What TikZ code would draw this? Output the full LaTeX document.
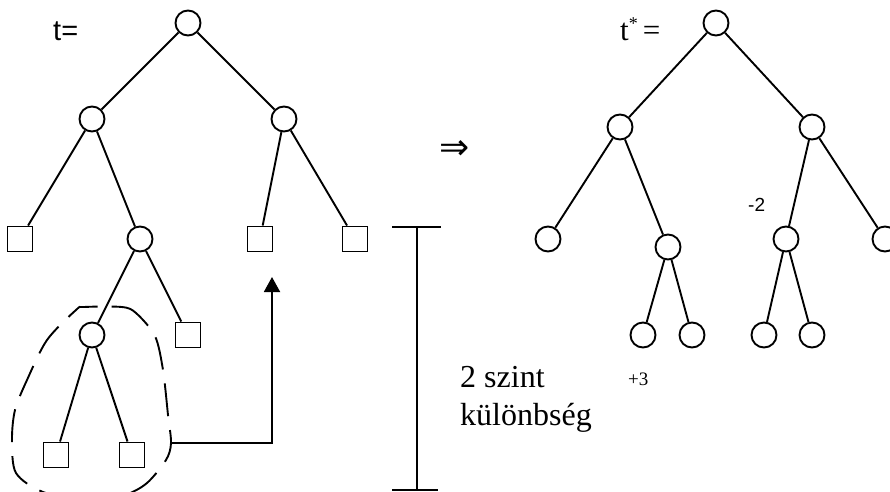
\documentclass[tikz,border=0pt]{standalone}
\usepackage{fontspec}
\setmainfont{Liberation Serif}
\newfontfamily\sansf{Liberation Sans}
\newfontfamily\symf{DejaVu Sans}
\usetikzlibrary{arrows.meta}
\begin{document}
\begin{tikzpicture}[x=1pt,y=-1pt,
  cnode/.style={circle,draw,line width=1.9pt,minimum size=25pt,inner sep=0pt},
  snode/.style={rectangle,draw,line width=1.9pt,minimum size=25pt,inner sep=0pt},
  edge/.style={line width=1.9pt},
  lbl/.style={inner sep=0pt,anchor=base west}]
\useasboundingbox (0,0) rectangle (890,491);
% ---------- left tree ----------
\node[cnode] (a) at (188,23) {};
\node[cnode] (b) at (92,119) {};
\node[cnode] (c) at (284,119) {};
\node[snode] (d) at (20,239) {};
\node[cnode] (e) at (140,239) {};
\node[snode] (f) at (260,239) {};
\node[snode] (g) at (355,239) {};
\node[cnode] (h) at (92,335) {};
\node[snode] (i) at (188,335) {};
\node[snode] (j) at (56,455) {};
\node[snode] (k) at (132,455) {};
\draw[edge] (a) -- (b) (a) -- (c) (b) -- (d) (b) -- (e) (c) -- (f) (c) -- (g)
  (e) -- (h) (e) -- (i) (h) -- (j) (h) -- (k);
% dashed outline
\draw[edge,dash pattern=on 33pt off 14pt] plot[smooth cycle] coordinates {
  (84,307) (122,307) (136,313) (155,336) (163,370) (168,415) (171,443)
  (166,460) (147,483) (125,495) (90,502) (43,492) (16,473) (12,440)
  (15,410) (27,380) (47,340) (76,310)};
% arrow
\coordinate (as) at (172,443);
\coordinate (ae) at (272,277);
\draw[edge,-{Triangle[width=16pt,length=15pt]}] (as) -| (ae);
% bar
\coordinate (bt) at (417,227);
\coordinate (bb) at (417,490);
\coordinate (btl) at (392,227);
\coordinate (btr) at (441,227);
\coordinate (bbl) at (392,490);
\coordinate (bbr) at (438,490);
\draw[edge] (bt) -- (bb) (btl) -- (btr) (bbl) -- (bbr);
% ---------- right tree ----------
\node[cnode] (A) at (716,23) {};
\node[cnode] (B) at (620,127) {};
\node[cnode] (C) at (812,127) {};
\node[cnode] (D) at (548,239) {};
\node[cnode] (E) at (668,247) {};
\node[cnode] (F) at (786,239) {};
\node[cnode] (G) at (885,239) {};
\node[cnode] (H) at (643,335) {};
\node[cnode] (I) at (692,335) {};
\node[cnode] (J) at (764,335) {};
\node[cnode] (K) at (812,335) {};
\draw[edge] (A) -- (B) (A) -- (C) (B) -- (D) (B) -- (E) (C) -- (F) (C) -- (G)
  (E) -- (H) (E) -- (I) (F) -- (J) (F) -- (K);
% ---------- labels ----------
\node[lbl] (tl) at (53,40) {\sansf\fontsize{29}{29}\selectfont t=};
\node[lbl] (tr) at (620,40) {\fontsize{31}{31}\selectfont t\raisebox{11pt}{\fontsize{18}{18}\selectfont *}\hspace{5pt}=};
\node[inner sep=0pt] (imp) at (455,150) {\symf\fontsize{36}{36}\selectfont ⇒};
\node[lbl] (s1) at (460,387) {\fontsize{32}{32}\selectfont 2 szint};
\node[lbl] (s2) at (460,425) {\fontsize{32}{32}\selectfont különbség};
\node[lbl] (m2) at (748,211) {\sansf\fontsize{19}{19}\selectfont -2};
\node[lbl] (p3) at (628,385) {\fontsize{19}{19}\selectfont +3};
\end{tikzpicture}
\end{document}
